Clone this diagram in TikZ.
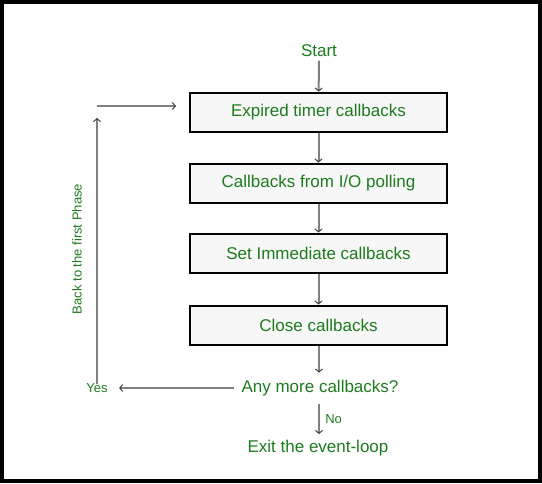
\documentclass[tikz,border=0pt]{standalone}
\usepackage{fontspec}
\setmainfont{Liberation Sans}
\usepackage{xcolor}
\usepackage{tikz}
\usetikzlibrary{positioning,arrows.meta}

\definecolor{txtgreen}{HTML}{1E7B1E}
\definecolor{linegray}{HTML}{808080}
\definecolor{boxfill}{HTML}{F7F7F7}

\begin{document}
\begin{tikzpicture}[x=1pt, y=-1pt,
    every node/.append style={text=txtgreen, font=\fontsize{17}{20}\selectfont},
    phase/.style={draw=black, line width=2pt, fill=boxfill, minimum width=257pt, minimum height=39pt, inner sep=0pt},
    flow/.style={draw=linegray, line width=2pt, -{Straight Barb[length=3pt, width=7pt, color=black!80, line width=0.9pt]}},
    small/.style={font=\fontsize{13}{15}\selectfont}]
        % frame
        \fill[black] (0,0) rectangle (542,483);
        \fill[white] (4,4) rectangle (538,479);

        \node (start) at (319,51) {Start};
        \node[phase] (timers) at (318.5,112) {Expired timer callbacks};
        \node[phase] (poll) at (318.5,183) {Callbacks from I/O polling};
        \node[phase] (check) at (318.5,253) {Set Immediate callbacks};
        \node[phase] (close) at (318.5,325) {Close callbacks};
        \node (more) at (320,388) {Any more callbacks?};
        \node (exit) at (318,448) {Exit the event-loop};
        \node[small] (yes) at (97,388) {Yes};
        \node[small, rotate=90] (back) at (77,249) {Back to the first Phase};
        \coordinate (corner) at (97,106);
        \coordinate (entry) at (176,106);
        \coordinate (nofrom) at (319,404);
        \coordinate (noto) at (319,434);

        \draw[flow] (start) -- (timers);
        \draw[flow] (timers) -- (poll);
        \draw[flow] (poll) -- (check);
        \draw[flow] (check) -- (close);
        \draw[flow] (close.south -| start) -- ([yshift=4pt]more.north -| start);
        \draw[flow] ([xshift=-4pt]more.west) -- ([xshift=8pt]yes.east);
        \draw[flow] (nofrom) -- node[right, small, xshift=2pt] {No} (noto);
        \draw[flow] ([yshift=-4pt]yes.north) -- ([yshift=-12pt]corner);
        \draw[flow] (corner) -- (entry);
    \end{tikzpicture}
\end{document}
